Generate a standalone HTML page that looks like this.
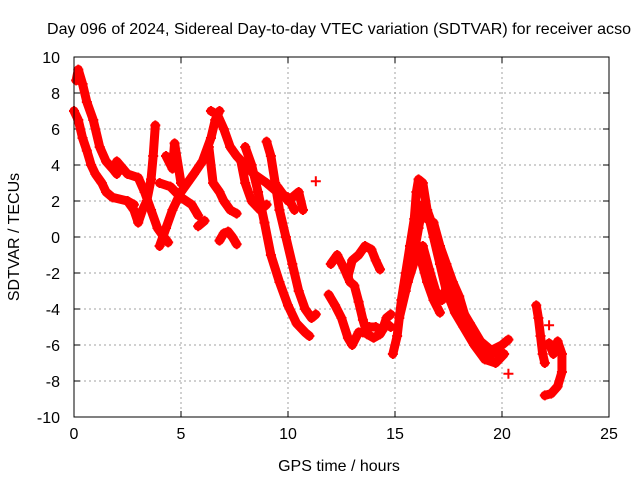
<!DOCTYPE html>
<html><head><meta charset="utf-8"><style>
body{margin:0;background:#fff}
svg{display:block;font-family:"Liberation Sans",sans-serif}
</style></head><body>
<svg id="chart" width="640" height="480">
<rect width="640" height="480" fill="#fff"/>
<text x="339" y="34" font-size="16" text-anchor="middle" textLength="584">Day 096 of 2024, Sidereal Day-to-day VTEC variation (SDTVAR) for receiver acso</text>
<text x="339" y="471" font-size="16" text-anchor="middle">GPS time / hours</text>
<text x="19" y="237" font-size="16" text-anchor="middle" transform="rotate(-90 19 237)">SDTVAR / TECUs</text>
<g id="grid"></g><g id="ticks"></g><g id="marks"></g>
<rect x="74" y="57" width="535" height="360" fill="none" stroke="#000" stroke-width="1"/>
</svg>
<script>
const xTicks=[0,5,10,15,20,25];
const yTicks=[-10,-8,-6,-4,-2,0,2,4,6,8,10];
const trackA=[[0.1,8.7],[0.2,9.3],[0.4,8.5],[0.6,7.5],[0.9,6.5],[1.2,5],[1.5,4.2],[1.8,3.8],[2.0,3.5]];
const trackB=[[0,7],[0.2,6.5],[0.4,5.5],[0.6,4.8],[0.8,4],[1.0,3.5],[1.3,3],[1.5,2.5],[1.8,2.2],[2.5,2],[2.8,1.8]];
const trackC=[[2,4.2],[2.5,3.5],[3,3.3],[3.3,2.5],[3.6,1.5],[3.9,0.5],[4.2,0],[4.4,-0.3]];
const trackD=[[2.5,2],[2.8,1.5],[3,0.8],[3.2,1.5],[3.4,2],[3.6,3.2],[3.7,4.5],[3.8,6.2]];
const trackE=[[4.0,-0.5],[4.3,0.5],[4.6,1.5],[5,2.5],[5.3,3],[5.6,3.5],[6,4.2],[6.4,5.5],[6.6,6.5],[6.8,7]];
const trackF=[[4,3],[4.5,2.8],[5,2.2],[5.5,1.8],[5.8,1.2]];
const trackG=[[4.3,4.5],[4.6,3.8],[4.7,5.2],[5,3]];
const trackH=[[6.4,7],[6.7,6.8],[7,6],[7.3,5],[7.6,4.5],[8,4],[8.4,3.5],[9,3],[9.5,2.5],[10,2.2],[10.3,1.5]];
const trackI=[[6.3,5],[6.5,3],[6.8,2.5],[7,2],[7.3,1.5],[7.6,1.3]];
const trackJ=[[5.8,0.6],[6.1,0.9]];
const trackK=[[6.8,-0.2],[7,0.2],[7.2,0.3],[7.4,0],[7.6,-0.4]];
const trackL=[[8,5],[8.3,4],[8.6,2.5],[8.9,0.8],[9.2,-1],[9.6,-2.5],[10.0,-3.8],[10.4,-4.8],[10.8,-5.3],[11,-5.5]];
const trackM=[[9,5.3],[9.2,4.5],[9.4,3],[9.6,1.5],[9.9,0],[10.2,-1.5],[10.5,-3],[10.8,-4],[11.1,-4.5],[11.3,-4.3]];
const trackN=[[7.8,4.2],[8,3],[8.3,2],[8.7,1.5],[9,1.8]];
const trackO=[[9.5,2.8],[10,2],[10.5,2.5],[10.7,1.5]];
const trackP=[[11.3,3.1]];
const trackQ=[[11.9,-3.2],[12.2,-3.8],[12.5,-4.5],[12.8,-5.6],[13,-6],[13.3,-5.3],[13.5,-5.3],[13.8,-5.0],[14.1,-5.0],[14.4,-5.2],[14.6,-4.5],[14.8,-4.3]];
const trackR=[[12,-1.5],[12.3,-1],[12.6,-1.7],[12.9,-2.5],[13.1,-2.7],[13.3,-3.6],[13.5,-4.6],[13.7,-5.4],[14,-5.6],[14.3,-5.4],[14.6,-4.8],[14.8,-5.0]];
const trackS=[[12.8,-2.2],[13,-1.3],[13.3,-1],[13.6,-0.5],[13.9,-0.7],[14.1,-1.3],[14.3,-1.8]];
const trackT=[[14.9,-6.5],[15.1,-5.5],[15.3,-3.5],[15.5,-2],[15.7,-0.5],[15.9,1],[16,2.5],[16.1,3.2],[16.3,3],[16.5,1.5],[16.8,0.5],[17,-0.5],[17.3,-2],[17.6,-3],[18,-3.8],[18.5,-4.8],[19,-5.8],[19.5,-6.3],[20,-6],[20.3,-5.7]];
const trackU=[[15.2,-4.5],[15.5,-3],[15.8,-1.5],[16.1,0.5],[16.3,1.8],[16.5,1.5],[16.8,0],[17.1,-1.5],[17.4,-3],[17.8,-4.2],[18.2,-5],[18.7,-6],[19.2,-6.8],[19.7,-7],[20.1,-6.5]];
const trackV=[[15.6,-2.5],[16,-1],[16.3,-0.5],[16.6,-1.8],[16.9,-3],[17.2,-3.5],[17.4,-2.8],[17.6,-3.5]];
const trackW=[[16.2,-1.2],[16.5,-2.5],[16.8,-3.5],[17.1,-4.2]];
const trackX=[[16.5,1],[16.8,0.8],[17.1,-0.5],[17.4,-1.5],[17.7,-2.5],[18,-3.3],[18.3,-4.5],[18.6,-5.5],[19,-6.3],[19.4,-6.6],[19.8,-6.3]];
const trackY=[[21.6,-3.8],[21.7,-4.5],[21.8,-5.5],[21.9,-6.5],[22,-7]];
const trackZ=[[22,-8.8],[22.3,-8.7],[22.6,-8.3],[22.8,-7.5],[22.8,-6.5],[22.6,-5.8]];
const trackExtra=[[22.2,-5.9],[22.4,-6.5]];
const isolated=[[20.3,-7.6],[22.2,-4.9]];
const tracks=[trackA,trackB,trackC,trackD,trackE,trackF,trackG,trackH,trackI,trackJ,trackK,trackL,trackM,trackN,trackO,trackP,trackQ,trackR,trackS,trackT,trackU,trackV,trackW,trackX,trackY,trackZ,trackExtra];

const X0=74,X1=609,Y0=417,Y1=57;
function sx(v){return X0+(v-0)/(25-0)*(X1-X0);}
function sy(v){return Y0-(v+10)/20*(Y0-Y1);}
const NS='http://www.w3.org/2000/svg';
function mk(t,a,p){const e=document.createElementNS(NS,t);for(const k in a)e.setAttribute(k,a[k]);p.appendChild(e);return e;}
const grid=document.getElementById('grid'),ticks=document.getElementById('ticks'),marks=document.getElementById('marks');
xTicks.forEach(t=>{const x=sx(t);
 if(t>0&&t<25){const g=mk('line',{x1:x,x2:x,y1:Y1,y2:Y0,stroke:'#a0a0a0','stroke-dasharray':'2,3'},grid);
 
 }
 mk('line',{x1:x,x2:x,y1:Y0,y2:Y0-6,stroke:'#000'},ticks);mk('line',{x1:x,x2:x,y1:Y1,y2:Y1+6,stroke:'#000'},ticks);
 const l=mk('text',{x:x,y:Y0+22,'font-size':16,'text-anchor':'middle'},ticks);l.textContent=t;
 
 });
yTicks.forEach(t=>{const y=sy(t);
 if(t>-10&&t<10){const g=mk('line',{x1:X0,x2:X1,y1:y,y2:y,stroke:'#a0a0a0','stroke-dasharray':'2,3'},grid);
 
 }
 mk('line',{x1:X0,x2:X0+6,y1:y,y2:y,stroke:'#000'},ticks);mk('line',{x1:X1,x2:X1-6,y1:y,y2:y,stroke:'#000'},ticks);
 const l=mk('text',{x:X0-14,y:y+6,'font-size':16,'text-anchor':'end'},ticks);l.textContent=t;
 
 });
function plus(x,y){const p=mk('path',{d:`M${x-5},${y}h10M${x},${y-5}v10`,stroke:'#f00','stroke-width':2},marks);
 
 }
tracks.forEach(tr=>{
 const pl=mk('polyline',{points:tr.map(p=>sx(p[0])+','+sy(p[1])).join(' '),fill:'none',stroke:'#f00','stroke-width':9,'stroke-linejoin':'round','stroke-linecap':'round'},marks);
 
 
 tr.forEach(p=>plus(sx(p[0]),sy(p[1])));});
isolated.forEach(p=>plus(sx(p[0]),sy(p[1])));
</script>
</body></html>
